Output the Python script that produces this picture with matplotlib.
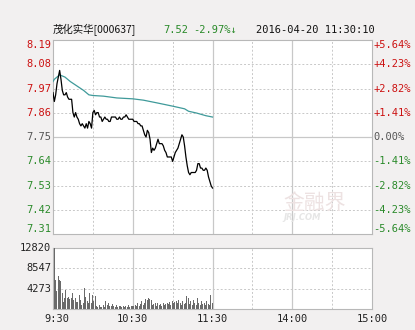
import matplotlib.pyplot as plt
from matplotlib.transforms import blended_transform_factory
import numpy as np

# header
stock_name = "茂化实华[000637]"
last_price = "7.52"
change_pct = "-2.97%↓"
timestamp = "2016-04-20 11:30:10"

prev_close = 7.75

# one price per minute, 9:30 -> 11:30
prices = [
    7.95, 7.91, 7.94, 7.99, 8.02, 8.05, 8.01, 7.96, 7.94, 7.94,
    7.95, 7.93, 7.92, 7.92, 7.92, 7.86, 7.84, 7.86, 7.84, 7.83,
    7.81, 7.80, 7.81, 7.80, 7.79, 7.81, 7.79, 7.82, 7.81, 7.79,
    7.86, 7.87, 7.85, 7.86, 7.86, 7.84, 7.84, 7.82, 7.83, 7.84,
    7.83, 7.83, 7.82, 7.82, 7.84, 7.84, 7.84, 7.84, 7.83, 7.83,
    7.84, 7.83, 7.83, 7.84, 7.84, 7.85, 7.84, 7.83, 7.83, 7.83,
    7.83, 7.82, 7.82, 7.82, 7.81, 7.81, 7.80, 7.80, 7.78, 7.76,
    7.75, 7.78, 7.77, 7.74, 7.68, 7.70, 7.69, 7.70, 7.72, 7.74,
    7.72, 7.72, 7.72, 7.71, 7.69, 7.68, 7.66, 7.66, 7.66, 7.66,
    7.64, 7.66, 7.68, 7.69, 7.70, 7.72, 7.74, 7.76, 7.75, 7.71,
    7.66, 7.62, 7.59, 7.58, 7.59, 7.59, 7.59, 7.59, 7.60, 7.63,
    7.63, 7.61, 7.61, 7.60, 7.60, 7.61, 7.60, 7.57, 7.55, 7.53,
    7.52,
]

# average price line, read at a few minutes
avg_minutes = [0, 1, 5, 9, 13, 18, 23, 27, 30, 38, 48, 60, 68, 78, 90, 99, 102, 108, 115, 120]
avg_prices = [8.00, 8.01, 8.03, 8.02, 8.00, 7.98, 7.96, 7.94, 7.937, 7.934, 7.926, 7.922,
              7.916, 7.904, 7.889, 7.877, 7.866, 7.858, 7.846, 7.840]

volumes = [
    12820, 6000, 3700, 7000, 6100, 5800, 3400, 1500, 2300, 4000,
    2300, 2600, 2000, 2300, 3300, 1900, 2300, 1500, 1400, 3000,
    1900, 900, 1200, 4400, 2600, 1600, 1300, 3300, 1200, 3000,
    1600, 2800, 550, 400, 800, 450, 350, 900, 500, 1600,
    900, 1250, 700, 550, 1100, 700, 400, 900, 450, 550,
    700, 400, 550, 450, 700, 350, 900, 500, 550, 700,
    550, 900, 600, 1250, 700, 1100, 1600, 900, 1300, 2200,
    1900, 2300, 2200, 1900, 900, 1100, 1250, 700, 1250, 900,
    1100, 700, 1250, 900, 1000, 1250, 1100, 1400, 900, 1600,
    1200, 1400, 1600, 1300, 1900, 1200, 900, 1600, 1100, 1250,
    2800, 2300, 1000, 1600, 900, 1900, 1250, 900, 2300, 1300,
    900, 1600, 1100, 1250, 900, 1600, 1100, 900, 3000, 1200,
]

vol_ticks = [4273, 8547, 12820]
time_labels = ["9:30", "10:30", "11:30", "14:00", "15:00"]
time_label_pos = [0, 60, 120, 180, 240]

pct_steps = [-4, -3, -2, -1, 0, 1, 2, 3, 4]
step = 0.0141

red = "#cc1111"
green = "#2a8a2a"
grey = "#555555"
grid_c = "#c8c8c8"
mono = ["DejaVu Sans Mono", "Noto Sans CJK SC"]

fig = plt.figure(figsize=(4.15, 3.3), dpi=100, facecolor="#f2f0f0")
ax = fig.add_axes([53 / 415, 96 / 330, 319 / 415, 194 / 330])
axv = fig.add_axes([53 / 415, 21 / 330, 319 / 415, 61 / 330])

minutes = np.arange(len(prices))
lo = prev_close * (1 + pct_steps[0] * step)
hi = prev_close * (1 + pct_steps[-1] * step)

for a in (ax, axv):
    a.set_facecolor("white")
    a.set_xlim(0, 240)
    a.set_xticks([])
    a.set_yticks([])
    for s in a.spines.values():
        s.set_color("#b8b8b8")
        s.set_linewidth(0.8)
    for m in (30, 90, 150, 210):
        a.axvline(m, color=grid_c, lw=0.7, ls=(0, (2, 2)), zorder=0)
    for m in (60, 120, 180):
        a.axvline(m, color=grid_c, lw=0.9, zorder=0)

ax.set_ylim(lo, hi)
tr_l = blended_transform_factory(fig.transFigure, ax.transData)
for k in pct_steps:
    level = prev_close * (1 + k * step)
    if k == 0:
        ax.axhline(level, color=grid_c, lw=0.9, zorder=0)
        col = grey
    elif abs(k) < 4:
        ax.axhline(level, color=grid_c, lw=0.7, ls=(0, (2, 2)), zorder=0)
    if k != 0:
        col = red if k > 0 else green
    va = "center"
    if k == 4:
        va = "top"
    elif k == -4:
        va = "bottom"
    ax.text(51 / 415, level, f"{level:.2f}", transform=tr_l, ha="right", va=va,
            color=col, fontsize=7.5, family=mono)
    sign = "+" if k > 0 else ("-" if k < 0 else "")
    ax.text(373 / 415, level, f"{sign}{abs(k) * step * 100:.2f}%", transform=tr_l,
            ha="left", va=va, color=col, fontsize=7.5, family=mono)

ax.plot(avg_minutes, avg_prices, color="#3f9a9a", lw=0.9, zorder=3)
ax.plot(minutes, prices, color="black", lw=0.9, zorder=4)

# watermark
ax.text(0.82, 0.16, "金融界", transform=ax.transAxes, ha="center", va="center",
        fontsize=15, color="#ede2e2", family=["Noto Sans CJK SC"], zorder=1)
ax.text(0.78, 0.085, "JRJ.COM", transform=ax.transAxes, ha="center", va="center",
        fontsize=6, color="#e6e6e6", style="italic", weight="bold", zorder=1)

axv.set_ylim(0, vol_ticks[-1])
axv.bar(np.arange(len(volumes)) + 0.4, volumes, width=0.75, align="edge",
        color="#6a6a6a", zorder=3)
tr_v = blended_transform_factory(fig.transFigure, axv.transData)
for v in vol_ticks:
    if v != vol_ticks[-1]:
        axv.axhline(v, color=grid_c, lw=0.7, ls=(0, (2, 2)), zorder=0)
    axv.text(51 / 415, v, str(v), transform=tr_v, ha="right", va="center",
             color="#222222", fontsize=7.5, family=mono)

tr_x = blended_transform_factory(axv.transData, fig.transFigure)
for lab, pos in zip(time_labels, time_label_pos):
    off = 3 if pos == 0 else 0
    axv.text(pos + off, 11 / 330, lab, transform=tr_x, ha="center", va="center",
             color="#222222", fontsize=7.5, family=mono)

# header line
fig.text(53 / 415, 300 / 330, stock_name, ha="left", va="center", fontsize=7.5,
         family=["Noto Sans CJK SC", "DejaVu Sans Mono"], color="#111111")
fig.text(163 / 415, 300 / 330, last_price, ha="left", va="center", fontsize=7.5,
         family=mono, color=green)
fig.text(193 / 415, 300 / 330, change_pct, ha="left", va="center", fontsize=7.5,
         family=mono, color=green)
fig.text(375 / 415, 300 / 330, timestamp, ha="right", va="center", fontsize=7.5,
         family=mono, color="#111111")

fig.savefig("out.png", dpi=100, facecolor=fig.get_facecolor())
